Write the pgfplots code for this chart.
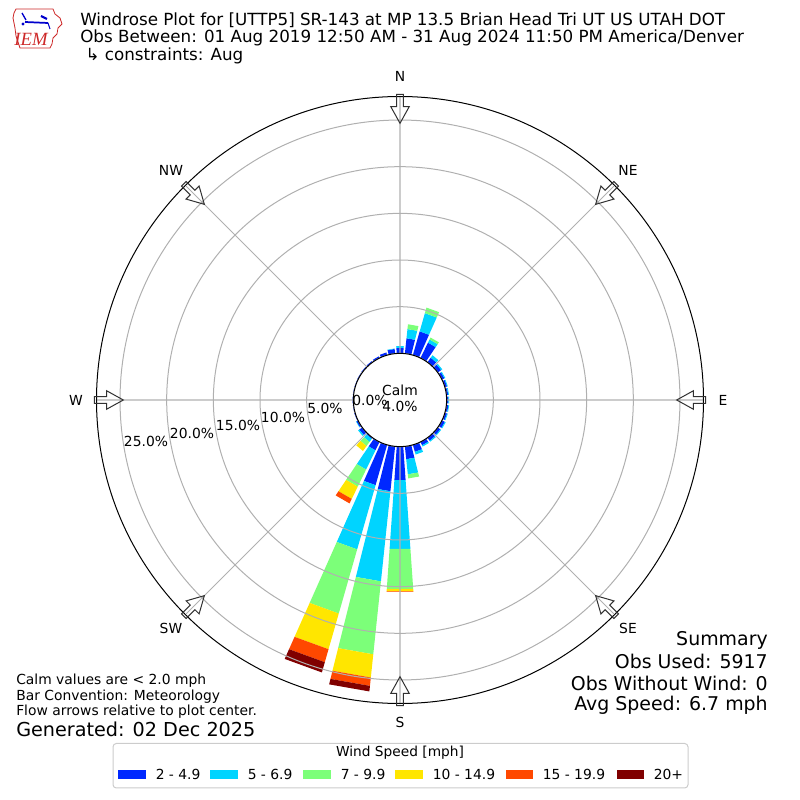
\documentclass[border=0pt]{standalone}
\usepackage{fontspec}
\setmainfont{DejaVu Sans}
\newfontfamily\iemfont{Liberation Serif}
\usepackage{pgfplots}
\pgfplotsset{compat=1.18}
\usepgfplotslibrary{polar}
\definecolor{bA}{RGB}{0,40,255}
\definecolor{bB}{RGB}{0,212,255}
\definecolor{bC}{RGB}{124,255,121}
\definecolor{bD}{RGB}{255,230,0}
\definecolor{bE}{RGB}{255,72,0}
\definecolor{bF}{RGB}{128,0,0}
\definecolor{gridgray}{RGB}{176,176,176}
\definecolor{arrowgray}{RGB}{50,50,50}
\definecolor{iemred}{RGB}{205,40,40}
\definecolor{legedge}{RGB}{204,204,204}

% one wedge segment: #1 = bin value (percent), #2 = colour
\newcommand\wrseg[2]{%
  \pgfmathsetmacro\wrNew{\wrR+#1}%
  \ifdim #1pt>0pt
    \edef\wrTmp{\noexpand\addplot[fill=#2,draw=none] coordinates {(\wrAL,\wrR) (\wrAR,\wrR) (\wrAR,\wrNew) (\wrAL,\wrNew)} -- cycle;}%
    \wrTmp
  \fi
  \let\wrR\wrNew
}
% one petal: #1 compass direction, #2..#7 percentages per speed bin
\newcommand\petal[7]{%
  \pgfmathsetmacro\wrAL{90-#1+4}%
  \pgfmathsetmacro\wrAR{90-#1-4}%
  \def\wrR{5}%
  \wrseg{#2}{bA}\wrseg{#3}{bB}\wrseg{#4}{bC}%
  \wrseg{#5}{bD}\wrseg{#6}{bE}\wrseg{#7}{bF}%
}

\begin{document}
\begin{tikzpicture}
\useasboundingbox (0,0) rectangle (600pt,600pt);
\begin{polaraxis}[
  at={(300pt,300pt)}, anchor=center,
  scale only axis, width=455.25pt, height=455.25pt,
  ymin=0, ymax=32.52,
  xtick={0,45,...,315}, ytick={5,10,...,30},
  xticklabels={}, yticklabels={},
  grid=major,
  grid style={color=gridgray, line width=0.75pt},
  x axis line style={black, line width=0.75pt},
  y axis line style={draw=none},
  major tick length=0pt,
  axis on top,
]
% dir  2-4.9 5-6.9 7-9.9 10-14.9 15-19.9 20+
\petal{0}{0.6}{0.2}{0}{0}{0}{0}
\petal{10}{1.65}{0.99}{0.52}{0}{0}{0}
\petal{20}{2.65}{2.03}{0.62}{0}{0}{0}
\petal{30}{1.84}{0.38}{0.23}{0}{0}{0}
\petal{40}{0.6}{0.33}{0}{0}{0}{0}
\petal{50}{0.45}{0.15}{0}{0}{0}{0}
\petal{60}{0.3}{0.1}{0}{0}{0}{0}
\petal{70}{0.25}{0.08}{0}{0}{0}{0}
\petal{80}{0.2}{0.08}{0}{0}{0}{0}
\petal{90}{0.2}{0.08}{0}{0}{0}{0}
\petal{100}{0.22}{0.08}{0}{0}{0}{0}
\petal{110}{0.25}{0.08}{0}{0}{0}{0}
\petal{120}{0.35}{0.1}{0}{0}{0}{0}
\petal{130}{0.35}{0.1}{0}{0}{0}{0}
\petal{140}{0.4}{0.12}{0}{0}{0}{0}
\petal{150}{0.4}{0.15}{0}{0}{0}{0}
\petal{160}{0.78}{0.3}{0}{0}{0}{0}
\petal{170}{1.38}{1.63}{0.44}{0}{0}{0}
\petal{180}{3.6}{7.4}{4.3}{0.25}{0.05}{0}
\petal{190}{4.83}{9.71}{7.86}{2.5}{0.9}{0.6}
\petal{200}{4.5}{7.15}{7.15}{3.98}{1.45}{1.14}
\petal{210}{1.0}{2.29}{2.04}{1.46}{0.54}{0}
\petal{220}{0.15}{0.4}{0.55}{0.65}{0}{0}
\petal{230}{0.4}{0.15}{0}{0}{0}{0}
\petal{240}{0.2}{0.05}{0}{0}{0}{0}
\petal{250}{0.1}{0}{0}{0}{0}{0}
\petal{260}{0.08}{0}{0}{0}{0}{0}
\petal{270}{0.08}{0}{0}{0}{0}{0}
\petal{280}{0.08}{0}{0}{0}{0}{0}
\petal{290}{0.08}{0}{0}{0}{0}{0}
\petal{300}{0.1}{0}{0}{0}{0}{0}
\petal{310}{0.12}{0}{0}{0}{0}{0}
\petal{320}{0.15}{0}{0}{0}{0}{0}
\petal{330}{0.2}{0}{0}{0}{0}{0}
\petal{340}{0.3}{0}{0}{0}{0}{0}
\petal{350}{0.5}{0.05}{0}{0}{0}{0}
\end{polaraxis}

% calm circle
\filldraw[fill=white, draw=black, line width=0.75pt] (300pt,300pt) circle (35pt);

% direction arrows
\foreach \c in {0,45,...,315} {
  \begin{scope}[shift={(300pt,300pt)}, x=0.75pt, y=0.75pt, rotate=-\c]
    \draw[arrowgray, line width=0.75pt, line join=miter]
      (-3.3,305.7) -- (3.3,305.7) -- (3.3,293.3) -- (9.2,293.3) -- (0,276.7)
      -- (-9.2,293.3) -- (-3.3,293.3) -- cycle;
  \end{scope}
}

\begin{scope}[x=0.75pt, y=-0.75pt, shift={(0pt,600pt)}]
  % logo
  \draw[iemred, line width=0.6pt] (16,9) -- (53,9) -- (55,14) -- (60,18) -- (62,24) -- (58,28)
    -- (57,34) -- (53,38) -- (52,44) -- (50,48) -- (20,48) -- (18,42) -- (16,36)
    -- (15,28) -- (13,18) -- (14,13) -- cycle;
  \draw[blue!80!black, line width=1.3pt] (25,22) -- (48,23);
  \draw[blue!80!black, line width=1pt] (22,13) -- (26,20);
  \draw[blue!80!black, line width=1.6pt] (41,16) -- (47,19);
  \fill[blue!80!black] (23,24) circle (1.6);
  \draw[blue!80!black, line width=0.8pt] (48,23) -- (50,29);
  \node[iemred, font=\iemfont\itshape\fontsize{14}{14}\selectfont] at (31,39) {IEM};
  % title
  \begin{scope}[every node/.style={anchor=base west, inner sep=0pt, font=\fontsize{12.55}{14}\selectfont}]
    \node at (80,25.5) {Windrose Plot for [UTTP5] SR-143 at MP 13.5 Brian Head Tri UT US UTAH DOT};
    \node at (80,43) {Obs Between: 01 Aug 2019 12:50 AM - 31 Aug 2024 11:50 PM America/Denver};
    \node at (80,60.5) {\ ↳ constraints: Aug};
  \end{scope}
  % compass labels
  \begin{scope}[every node/.style={inner sep=0pt, font=\fontsize{10.4}{12}\selectfont}]
    \node at (400,76) {N};
    \node at (628,170) {NE};
    \node at (723,400) {E};
    \node at (628,628) {SE};
    \node at (400,722) {S};
    \node at (171,628) {SW};
    \node at (76,400) {W};
    \node at (171,170) {NW};
    % radial labels
    \node at (370,400) {0.0\%};
    \node at (325,408) {5.0\%};
    \node at (283,417) {10.0\%};
    \node at (238,425) {15.0\%};
    \node at (192,433) {20.0\%};
    \node at (146,441) {25.0\%};
    % calm
    \node at (400,390) {Calm};
    \node at (400,406) {4.0\%};
  \end{scope}
  % bottom left notes
  \begin{scope}[every node/.style={anchor=west, inner sep=0pt, font=\fontsize{10.4}{12}\selectfont}]
    \node at (16,681) {Calm values are < 2.0 mph};
    \node at (16,696.5) {Bar Convention: Meteorology};
    \node at (16,712) {Flow arrows relative to plot center.};
    \node[font=\fontsize{14.4}{16}\selectfont] at (16,729.5) {Generated: 02 Dec 2025};
  \end{scope}
  % summary
  \begin{scope}[every node/.style={anchor=east, inner sep=0pt, font=\fontsize{14.2}{16}\selectfont}]
    \node at (768,640) {Summary};
    \node at (768,661.5) {Obs Used: 5917};
    \node at (768,683.5) {Obs Without Wind: 0};
    \node at (768,705) {Avg Speed: 6.7 mph};
  \end{scope}
  % legend
  \draw[legedge, fill=white, line width=0.75pt, rounded corners=2.5pt] (113,743.5) rectangle (688,788);
  \node[inner sep=0pt, font=\fontsize{10.3}{12}\selectfont] at (400,753) {Wind Speed [mph]};
  \begin{scope}[every node/.style={anchor=west, inner sep=0pt, font=\fontsize{10.4}{12}\selectfont}]
    \fill[bA] (118,770) rectangle (146,779); \node at (155.5,774.5) {2 - 4.9};
    \fill[bB] (210,770) rectangle (238,779); \node at (247.5,774.5) {5 - 6.9};
    \fill[bC] (303,770) rectangle (331,779); \node at (340.5,774.5) {7 - 9.9};
    \fill[bD] (395,770) rectangle (423,779); \node at (432.5,774.5) {10 - 14.9};
    \fill[bE] (506,770) rectangle (533,779); \node at (542.5,774.5) {15 - 19.9};
    \fill[bF] (617,770) rectangle (644,779); \node at (653.5,774.5) {20+};
  \end{scope}
\end{scope}
\end{tikzpicture}
\end{document}
